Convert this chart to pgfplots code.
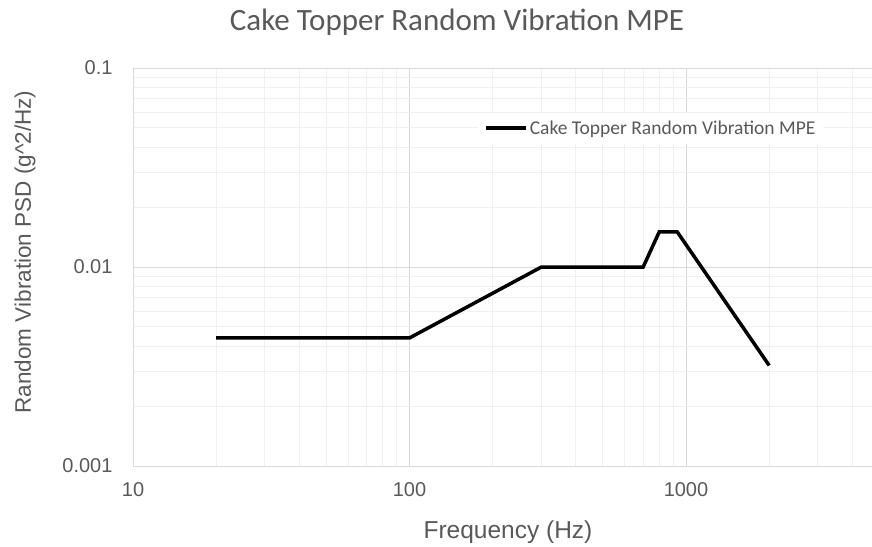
\documentclass[border=0pt]{standalone}
\usepackage{pgfplots}
\pgfplotsset{compat=1.18}
\usepackage{fontspec}
\setmainfont{Carlito}
\newfontfamily\arialf{Liberation Sans}
\definecolor{txtgray}{HTML}{595959}
\definecolor{majgrid}{HTML}{D9D9D9}
\definecolor{mingrid}{HTML}{F0F0F0}

\begin{document}
\begin{tikzpicture}[x=1pt,y=1pt]
\path[use as bounding box] (0,0) rectangle (872,546);

\begin{axis}[
    at={(133pt,80pt)}, anchor=south west,
    scale only axis,
    width=739pt, height=398pt,
    xmode=log, ymode=log,
    xmin=10, xmax=4707,
    ymin=0.001, ymax=0.1,
    xtick={10,100,1000},
    xticklabels={10,100,1000},
    ytick={0.001,0.01,0.1},
    yticklabels={0.001,0.01,0.1},
    minor xtick={20,30,40,50,60,70,80,90,200,300,400,500,600,700,800,900,2000,3000,4000},
    minor ytick={0.002,0.003,0.004,0.005,0.006,0.007,0.008,0.009,0.02,0.03,0.04,0.05,0.06,0.07,0.08,0.09},
    grid=both,
    major grid style={majgrid, line width=1pt},
    minor grid style={mingrid, line width=1pt},
    major tick length=0pt, minor tick length=0pt,
    axis x line*=bottom, axis y line*=left,
    axis line style={-, draw=majgrid, line width=1pt},
    /pgf/number format/assume math mode=true,
    ticklabel style={font=\arialf\fontsize{20}{22}\selectfont, text=txtgray},
    xticklabel style={yshift=-13pt},
    yticklabel style={xshift=-17pt},
    legend style={at={(rel axis cs:0.467,0.849)}, anchor=west,
        draw=none, fill=white, inner xsep=6pt, inner ysep=6pt,
        font=\fontsize{19.5}{21}\selectfont, text=txtgray},
    legend image code/.code={\draw[#1] (0pt,0pt) -- (40pt,0pt);},
]
\addplot[black, line width=3.5pt, line join=miter] coordinates {
    (20,0.0044) (100,0.0044) (300,0.01) (700,0.01)
    (800,0.015) (930,0.015) (2000,0.0032)
};
\addlegendentry{Cake Topper Random Vibration MPE}
\end{axis}

\node[font=\fontsize{31}{34}\selectfont, text=txtgray] at (457,524) {Cake Topper Random Vibration MPE};
\node[font=\arialf\fontsize{24.5}{27}\selectfont, text=txtgray] at (508,14) {Frequency (Hz)};
\node[font=\arialf\fontsize{22.5}{25}\selectfont, text=txtgray, rotate=90] at (25,294) {Random Vibration PSD (g\^{}2/Hz)};
\end{tikzpicture}
\end{document}
